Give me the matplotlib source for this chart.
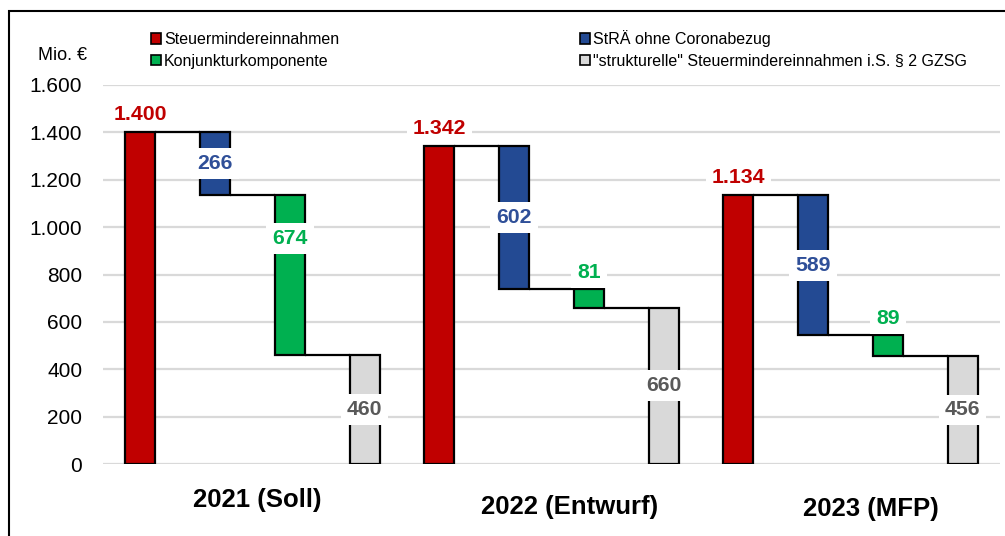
import matplotlib
matplotlib.use("Agg")
import matplotlib.pyplot as plt
from matplotlib.patches import Rectangle, Patch
from matplotlib.ticker import FuncFormatter

plt.rcParams["font.family"] = ["Liberation Sans", "DejaVu Sans"]

# Data (Mio. €)
years = ["2021 (Soll)", "2022 (Entwurf)", "2023 (MFP)"]
steuermindereinnahmen = [1400, 1342, 1134]
stra_ohne_corona = [266, 602, 589]
konjunkturkomponente = [674, 81, 89]
strukturelle = [460, 660, 456]
series_names = [
    "Steuermindereinnahmen",
    "StRÄ ohne Coronabezug",
    "Konjunkturkomponente",
    "\"strukturelle\" Steuermindereinnahmen i.S. § 2 GZSG",
]
y_ticks = [0, 200, 400, 600, 800, 1000, 1200, 1400, 1600]

# Styling
bar_colors = ["#C00000", "#234A93", "#00B050", "#D9D9D9"]
label_colors = ["#C00000", "#2F4F98", "#00B050", "#595959"]
bar_width = 0.40
W, H = 1005, 536


def de_fmt(v, _pos=None):
    return f"{int(round(v)):,}".replace(",", ".")


fig = plt.figure(figsize=(W / 100, H / 100), dpi=100)
ax = fig.add_axes([103 / W, 1 - 464 / H, (1000 - 103) / W, (464 - 85) / H])

# outer frame
fig.patches.append(Rectangle((9 / W, -0.1), 1.2, 1.1 - 11 / H, transform=fig.transFigure,
                             fill=False, edgecolor="black", linewidth=1.5))

edge = dict(edgecolor="black", linewidth=1.6, zorder=3)
lbl_box = dict(boxstyle="square,pad=0.28", facecolor="white", edgecolor="none")

for g in range(len(years)):
    total = steuermindereinnahmen[g]
    after_stra = total - stra_ohne_corona[g]
    after_konj = after_stra - konjunkturkomponente[g]
    x0 = g * 4
    xs = [x0, x0 + 1, x0 + 2, x0 + 3]
    heights = [total, stra_ohne_corona[g], konjunkturkomponente[g], strukturelle[g]]
    bottoms = [0, after_stra, after_konj, 0]

    for i in range(4):
        ax.bar(xs[i], heights[i], bottom=bottoms[i], width=bar_width,
               color=bar_colors[i], **edge)

    # connector lines between consecutive bars
    levels = [total, after_stra, after_konj]
    for i in range(3):
        ax.plot([xs[i] + bar_width / 2, xs[i + 1] - bar_width / 2], [levels[i], levels[i]],
                color="black", linewidth=1.6, zorder=2, solid_capstyle="butt")

    # value labels
    txt = dict(fontsize=15.3, fontweight="bold", ha="center", bbox=lbl_box, zorder=5)
    # total: above the bar
    ax.annotate(de_fmt(total), (xs[0], total), xytext=(0, 6), textcoords="offset points",
                va="bottom", color=label_colors[0], **txt)
    # reduction by tax law changes: centred in the bar
    ax.text(xs[1], after_stra + stra_ohne_corona[g] / 2, de_fmt(stra_ohne_corona[g]),
            va="center", color=label_colors[1], **txt)
    # business-cycle component: inside when large, above when small
    k = konjunkturkomponente[g]
    if k > 300:
        ax.text(xs[2], after_konj + k * 0.73, de_fmt(k), va="center",
                color=label_colors[2], **txt)
    else:
        ax.annotate(de_fmt(k), (xs[2], after_stra), xytext=(0, 5), textcoords="offset points",
                    va="bottom", color=label_colors[2], **txt)
    # structural remainder: centred in the bar
    ax.text(xs[3], strukturelle[g] / 2, de_fmt(strukturelle[g]), va="center",
            color=label_colors[3], **txt)

# group titles below the axis
title_pos = [(257, 500), (570, 507), (871, 509)]
for name, (px, py) in zip(years, title_pos):
    fig.text(px / W, 1 - py / H, name, fontsize=18.5, fontweight="bold", ha="center", va="center")

ax.set_xlim(-0.5, 11.5)
ax.set_ylim(0, 1600)
ax.set_yticks(y_ticks)
ax.yaxis.set_major_formatter(FuncFormatter(de_fmt))
ax.set_xticks([])
ax.tick_params(axis="y", length=0, pad=15, labelsize=15)
ax.grid(axis="y", color="#D9D9D9", linewidth=1.6, zorder=0)
ax.set_axisbelow(True)
for s in ax.spines.values():
    s.set_visible(False)

fig.text(63 / W, 1 - 56 / H, "Mio. €", fontsize=13, ha="center", va="center")

handles = [Patch(facecolor=bar_colors[i], edgecolor="black", linewidth=1.2) for i in (0, 2, 1, 3)]
labels = [series_names[i] for i in (0, 2, 1, 3)]
fig.legend(handles, labels, loc="upper left", bbox_to_anchor=(151 / W, 1 - 30 / H),
           ncol=2, frameon=False, fontsize=11.5, handlelength=0.65, handleheight=0.65,
           handletextpad=0.15, labelspacing=0.42, columnspacing=15.1, borderpad=0,
           borderaxespad=0)

fig.savefig("out.png", dpi=100)
